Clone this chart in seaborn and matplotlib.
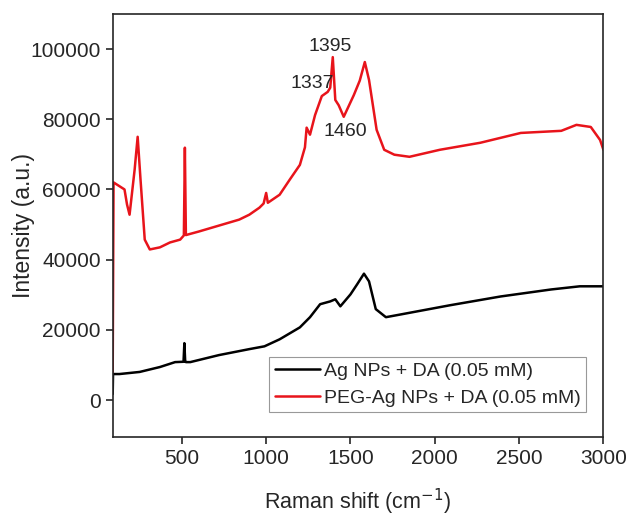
import pandas as pd
import seaborn as sns
import matplotlib.pyplot as plt

# spectra (Raman shift in cm-1, intensity in a.u.)
shift_ag = [90, 92, 130, 250, 370, 460, 510, 515, 520, 525, 550, 720, 900, 990, 1080,
            1200, 1260, 1320, 1380, 1410, 1440, 1500, 1540, 1580, 1610, 1650, 1710,
            1800, 2090, 2390, 2690, 2860, 3000]
int_ag = [1700, 7400, 7400, 8000, 9400, 10800, 10900, 16200, 10900, 10800, 10800, 12800,
          14500, 15300, 17300, 20700, 23600, 27300, 28100, 28700, 26700, 30100, 33000,
          36000, 33800, 25900, 23600, 24400, 27000, 29500, 31500, 32400, 32400]

shift_peg = [90, 95, 160, 175, 190, 220, 238, 255, 280, 310, 370, 430, 490, 512, 518, 524,
             600, 720, 840, 900, 960, 985, 1000, 1010, 1080, 1140, 1200, 1230, 1240,
             1260, 1290, 1330, 1365, 1380, 1395, 1410, 1430, 1460, 1520, 1555, 1585,
             1610, 1655, 1700, 1760, 1850, 2030, 2270, 2510, 2750, 2840, 2925, 2980, 3000]
int_peg = [8000, 62000, 60000, 55700, 52800, 65600, 75000, 62800, 45700, 42900, 43500,
           44900, 45700, 46900, 71900, 47000, 48000, 49700, 51400, 52800, 54800, 56000,
           59000, 56200, 58500, 62800, 67000, 72000, 77600, 75600, 81200, 86600, 87800,
           89000, 97700, 85500, 84000, 80700, 86900, 91000, 96300, 91200, 77000, 71300,
           69900, 69300, 71300, 73300, 76100, 76700, 78400, 77800, 74100, 71300]

peak_labels = ['1395', '1337', '1460']
peak_x = [1377, 1276, 1472]
peak_y = [100800, 90300, 76500]

df_ag = pd.DataFrame({'shift': shift_ag, 'intensity': int_ag})
df_peg = pd.DataFrame({'shift': shift_peg, 'intensity': int_peg})

sns.set_style('ticks')
plt.rcParams['font.family'] = ['Liberation Sans', 'DejaVu Sans']

fig, ax = plt.subplots(figsize=(6.44, 5.17), dpi=100)
sns.lineplot(data=df_ag, x='shift', y='intensity', color='black', linewidth=1.8,
             label='Ag NPs + DA (0.05 mM)', ax=ax)
sns.lineplot(data=df_peg, x='shift', y='intensity', color='#e8141b', linewidth=1.8,
             label='PEG-Ag NPs + DA (0.05 mM)', ax=ax)

for lab, px, py in zip(peak_labels, peak_x, peak_y):
    ax.text(px, py, lab, fontsize=14, ha='center', va='center')

ax.set_xlim(90, 3000)
ax.set_ylim(-10500, 110000)
ax.set_xticks([500, 1000, 1500, 2000, 2500, 3000])
ax.set_yticks([0, 20000, 40000, 60000, 80000, 100000])
ax.tick_params(labelsize=15, width=1.2, length=5, direction='out')
for s in ax.spines.values():
    s.set_linewidth(1.2)
    s.set_visible(True)
ax.set_xlabel('Raman shift (cm$^{-1}$)', fontsize=15.5, labelpad=14)
ax.set_ylabel('Intensity (a.u.)', fontsize=16.5, labelpad=-3)

leg = ax.legend(loc='lower right', fontsize=14, frameon=True, fancybox=False,
                edgecolor='gray', handlelength=2.3, handletextpad=0.2,
                borderpad=0.3, labelspacing=0.45, bbox_to_anchor=(0.985, 0.035))
leg.get_frame().set_linewidth(0.8)

plt.subplots_adjust(left=0.175, right=0.937, top=0.973, bottom=0.155)
plt.savefig('out.png', dpi=100)
